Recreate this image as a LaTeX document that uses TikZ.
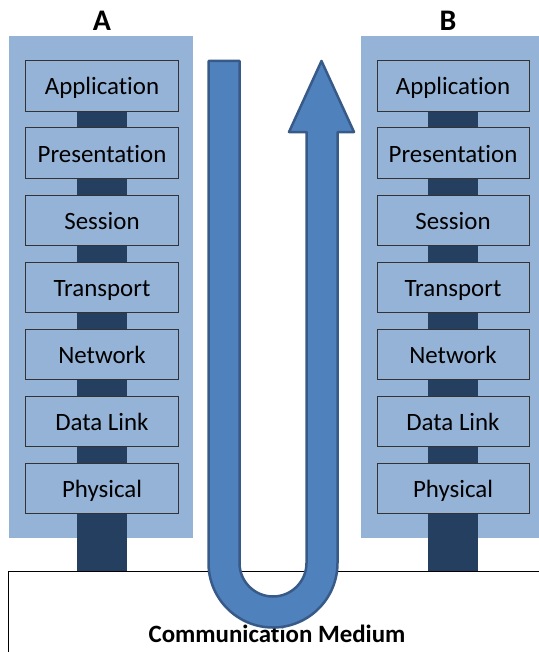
\documentclass[tikz,border=0pt]{standalone}
\usepackage{fontspec}
\setmainfont[RawFeature={-liga;-clig;-calt;-dlig}]{Carlito}
\usepackage{tikz}
\definecolor{panelblue}{HTML}{95B3D7}
\definecolor{barblue}{HTML}{243F60}
\definecolor{arrowblue}{HTML}{4F81BD}
\definecolor{arrowedge}{HTML}{385A88}

\begin{document}
\begin{tikzpicture}[x=1bp,y=-1bp]

\tikzset{
layer/.style={rectangle,minimum width=152bp,minimum height=50bp,inner sep=0pt,text height=18bp,text depth=0pt,draw=black!80,line width=1bp,fill=panelblue,font=\fontsize{25}{30}\selectfont},
panel/.style={rectangle,anchor=north west,minimum width=184bp,minimum height=502bp,inner sep=0pt,fill=panelblue},
bar/.style={draw=barblue,line width=50bp},
host/.style={font=\fontsize{30}{36}\selectfont\bfseries},
uarrow/.style={draw=arrowedge,line width=2.5bp,line join=round,fill=arrowblue}
}

\useasboundingbox (0,0) rectangle (539,652);

\node[rectangle,anchor=north west,minimum width=560bp,minimum height=110bp,inner sep=0pt,draw=black,line width=1bp,fill=white] (medium) at (8,571) {};
\node[font=\fontsize{25}{30}\selectfont\bfseries] (medium-label) at (277,634) {Communication Medium};

\node[panel] (panelA) at (9,36) {};
\node[panel] (panelB) at (361,36) {};

\node[host] (hostA) at (102,21) {A};
\node[host] (hostB) at (448,21) {B};

\node[layer] (applicationA) at (102,86) {Application};
\node[layer] (presentationA) at (102,153) {Presentation};
\node[layer] (sessionA) at (102,220) {Session};
\node[layer] (transportA) at (102,287) {Transport};
\node[layer] (networkA) at (102,354) {Network};
\node[layer] (datalinkA) at (102,421) {Data Link};
\node[layer] (physicalA) at (102,488) {Physical};

\node[layer] (applicationB) at (453,86) {Application};
\node[layer] (presentationB) at (453,153) {Presentation};
\node[layer] (sessionB) at (453,220) {Session};
\node[layer] (transportB) at (453,287) {Transport};
\node[layer] (networkB) at (453,354) {Network};
\node[layer] (datalinkB) at (453,421) {Data Link};
\node[layer] (physicalB) at (453,488) {Physical};

\draw[bar] (applicationA)--(presentationA);
\draw[bar] (presentationA)--(sessionA);
\draw[bar] (sessionA)--(transportA);
\draw[bar] (transportA)--(networkA);
\draw[bar] (networkA)--(datalinkA);
\draw[bar] (datalinkA)--(physicalA);
\draw[bar] (physicalA)--(physicalA |- medium.north);

\draw[bar] (applicationB)--(presentationB);
\draw[bar] (presentationB)--(sessionB);
\draw[bar] (sessionB)--(transportB);
\draw[bar] (transportB)--(networkB);
\draw[bar] (networkB)--(datalinkB);
\draw[bar] (datalinkB)--(physicalB);
\draw[bar] (physicalB)--(physicalB |- medium.north);

\draw[uarrow] (208.5,61) -- (208.5,563) arc[start angle=180,end angle=0,radius=64.5]
  -- (337.5,132) -- (354,132) -- (321.5,61) -- (289,132) -- (306.5,132) -- (306.5,563)
  arc[start angle=0,end angle=180,radius=33.5] -- (239.5,61) -- cycle;

\end{tikzpicture}
\end{document}
